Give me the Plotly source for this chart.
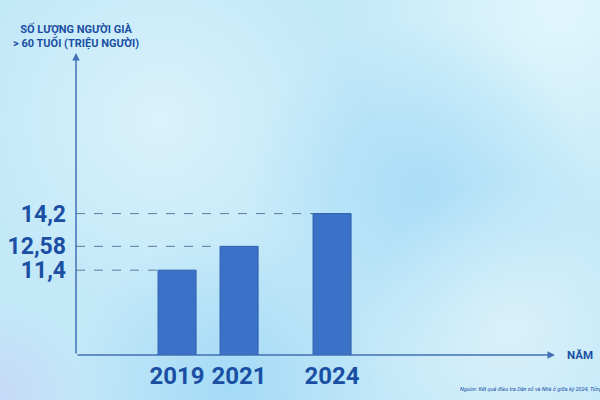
import base64
import plotly.graph_objects as go

years = [2019, 2021, 2024]
values = [11.4, 12.58, 14.2]
value_labels = ["11,4", "12,58", "14,2"]
year_labels = ["2019", "2021", "2024"]

L, R, T, B = 76, 45, 40, 45
W, H = 600, 400
pw, ph = W - L - R, H - T - B
x0 = 2015.74
kx = 31.0
xr = [x0, x0 + pw / kx]
y0 = 7.2
yr = [y0, y0 + ph / 20.2]
bw = 38 / kx

dark = "#1a4fa3"
axis_c = "#4170b5"
FONT = "Roboto"

# soft background gradient (decoration only)
blobs = [
    (560, 10, 220, "#e4f8fd", 0.9),
    (160, 120, 190, "#dcf3fc", 0.9),
    (420, 190, 170, "#a4dbf6", 0.8),
    (230, 390, 160, "#9cd7f5", 0.8),
    (510, 330, 150, "#dff3fb", 0.8),
    (0, 395, 90, "#c6d6f6", 0.8),
]
defs, rects = [], []
for i, (cx, cy, r, c, o) in enumerate(blobs):
    defs.append(
        f'<radialGradient id="g{i}" gradientUnits="userSpaceOnUse" cx="{cx}" cy="{cy}" r="{r}">'
        f'<stop offset="0" stop-color="{c}" stop-opacity="{o}"/>'
        f'<stop offset="1" stop-color="{c}" stop-opacity="0"/></radialGradient>')
    rects.append(f'<rect width="600" height="400" fill="url(#g{i})"/>')
svg = ('<svg xmlns="http://www.w3.org/2000/svg" width="600" height="400" viewBox="0 0 600 400">'
       '<defs>' + "".join(defs) + '</defs><rect width="600" height="400" fill="#c3e8f8"/>'
       + "".join(rects) + '</svg>')
bg_src = "data:image/svg+xml;base64," + base64.b64encode(svg.encode()).decode()

fig = go.Figure()

for yy, v in zip(years, values):
    fig.add_trace(go.Scatter(x=[xr[0], yy - bw / 2], y=[v, v], mode="lines",
                             line=dict(color="#5a7b9e", width=1, dash="dash"),
                             hoverinfo="skip", showlegend=False))

fig.add_trace(go.Bar(x=years, y=[v - y0 for v in values], base=y0, width=bw,
                     marker=dict(color="#3b72c7", line=dict(color="#2b5dae", width=1)),
                     showlegend=False))

fig.update_layout(
    width=W, height=H,
    margin=dict(l=L, r=R, t=T, b=B, autoexpand=False),
    paper_bgcolor="#c3e8f8", plot_bgcolor="rgba(0,0,0,0)",
    font=dict(family=FONT, color=dark),
    images=[dict(source=bg_src, xref="paper", yref="paper", x=-L / pw, y=1 + T / ph,
                 sizex=W / pw, sizey=H / ph, sizing="stretch", layer="below",
                 xanchor="left", yanchor="top")],
    xaxis=dict(range=xr, tickvals=years, ticktext=year_labels, showgrid=False,
               zeroline=False, showline=False, ticks="", ticklabelstandoff=4,
               automargin=False,
               tickfont=dict(size=24, color=dark, family=FONT, weight="bold")),
    yaxis=dict(range=yr, tickvals=values, ticktext=value_labels, showgrid=False,
               zeroline=False, showline=False, ticks="", ticklabelstandoff=9,
               automargin=False,
               tickfont=dict(size=23, color=dark, family=FONT, weight="bold")),
    annotations=[
        dict(x=0, y=(355 - 53) / ph, xref="paper", yref="paper", ax=0, ay=302,
             showarrow=True, arrowhead=2, arrowsize=1, arrowwidth=1.5,
             arrowcolor=axis_c, text=""),
        dict(x=(555 - L) / pw, y=0, xref="paper", yref="paper", ax=-479, ay=0,
             showarrow=True, arrowhead=2, arrowsize=1, arrowwidth=1.5,
             arrowcolor=axis_c, text=""),
        dict(x=0, y=(H - B - 20) / ph, xref="paper", yref="paper", xanchor="center",
             yanchor="top", align="center", showarrow=False,
             text="SỐ LƯỢNG NGƯỜI GIÀ<br>> 60 TUỔI (TRIỆU NGƯỜI)",
             font=dict(size=11, color=dark, family=FONT, weight="bold")),
        dict(x=(565 - L) / pw, y=0, xref="paper", yref="paper", xanchor="left",
             yanchor="middle", showarrow=False, text="NĂM",
             font=dict(size=11.5, color=dark, family=FONT, weight="bold")),
        dict(x=(458 - L) / pw, y=-(389 - (H - B)) / ph, xref="paper", yref="paper",
             xanchor="left", yanchor="middle", showarrow=False,
             text="<i>Nguồn: Kết quả điều tra Dân số và Nhà ở giữa kỳ 2024, Tổng cục Thống kê</i>",
             font=dict(size=5.5, color=dark, family=FONT)),
    ],
)

fig.write_html("out.html", config={"displayModeBar": False},
               post_script="document.body.style.margin='0';document.body.style.overflow='hidden';")
